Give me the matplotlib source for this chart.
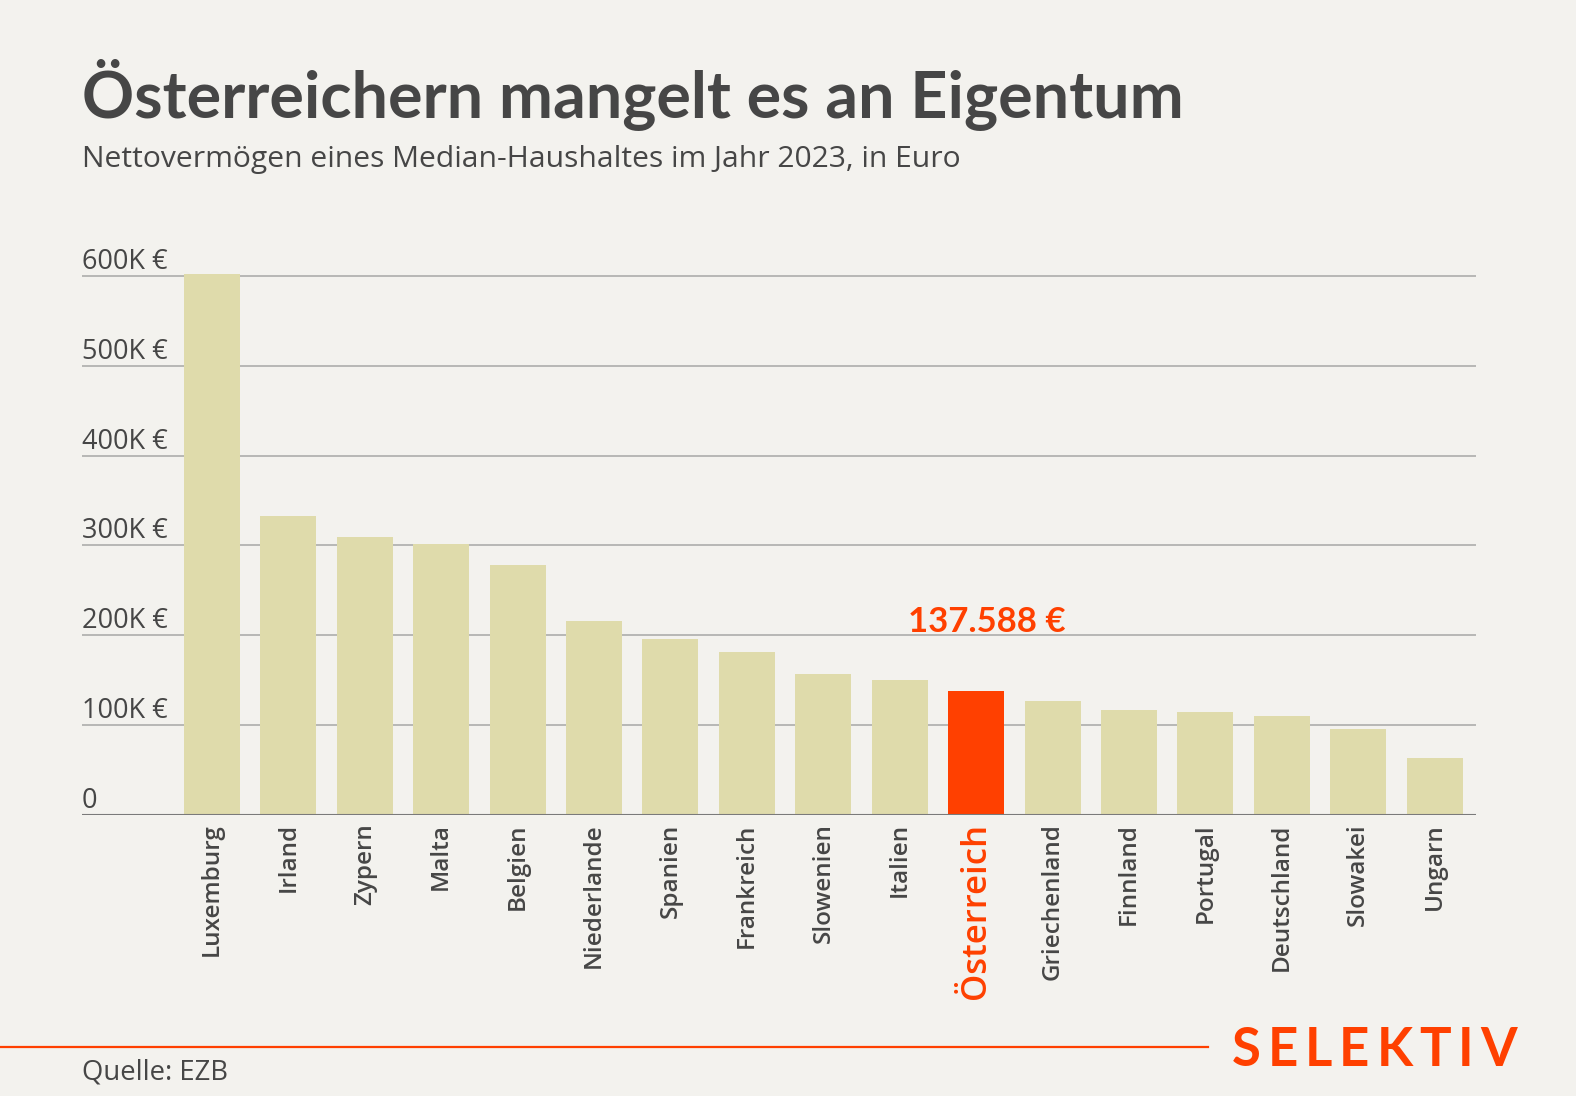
import matplotlib.pyplot as plt
import matplotlib.lines as mlines

plt.rcParams['font.family'] = ['Open Sans', 'DejaVu Sans']

countries = ["Luxemburg", "Irland", "Zypern", "Malta", "Belgien", "Niederlande",
             "Spanien", "Frankreich", "Slowenien", "Italien", "Österreich",
             "Griechenland", "Finnland", "Portugal", "Deutschland", "Slowakei", "Ungarn"]
values = [602000, 333000, 309000, 302000, 278000, 216000, 196000, 181000, 157000,
          150000, 137588, 127000, 117000, 115000, 110000, 96000, 64000]
ticks = [0, 100000, 200000, 300000, 400000, 500000, 600000]
tick_labels = ["0", "100K €", "200K €", "300K €", "400K €", "500K €", "600K €"]
highlight = "Österreich"

bg = "#f3f2ee"
bar_col = "#dfdbab"
red = "#ff4000"
txt = "#464646"

W, H = 1576, 1096
fig = plt.figure(figsize=(W / 100, H / 100), dpi=100, facecolor=bg)
ax = fig.add_axes([82 / W, 1 - 815 / H, (1476 - 82) / W, (815 - 258) / H])
ax.set_facecolor(bg)

x = list(range(len(countries)))
cols = [red if c == highlight else bar_col for c in countries]

for t in ticks[1:]:
    ax.axhline(t, color="#b2b2b0", lw=1.3, zorder=0)
ax.axhline(0, color="#7a7a7a", lw=1.5, zorder=3)

ax.bar(x, values, width=0.733, color=cols, zorder=2)

ax.set_xlim(-1.70, 16.54)
ax.set_ylim(0, 620000)
for s in ax.spines.values():
    s.set_visible(False)
ax.set_yticks([])
ax.set_xticks(x)
ax.set_xticklabels(countries, rotation=90, fontsize=17.5, color=txt, va="top",
                   fontweight="semibold")
ax.tick_params(axis="x", length=0, pad=6)
for lab in ax.get_xticklabels():
    if lab.get_text() == highlight:
        lab.set_color(red)
        lab.set_fontsize(25)

for t, l in zip(ticks, tick_labels):
    ax.annotate(l, xy=(0, t), xycoords=("axes fraction", "data"),
                xytext=(0, 7), textcoords="offset pixels",
                ha="left", va="baseline", fontsize=19.5, color=txt, fontweight="medium")

hi = countries.index(highlight)
ax.annotate(f"{values[hi]:,.0f} €".replace(",", "."), xy=(hi, values[hi]),
            xytext=(11, 59), textcoords="offset pixels",
            ha="center", va="baseline", fontsize=25, fontweight="bold", color=red,
            family=["Lato", "DejaVu Sans"])

fig.text(82 / W, 1 - 118 / H, "Österreichern mangelt es an Eigentum",
         fontsize=46.5, fontweight="bold", color=txt, va="baseline", ha="left",
         family=["Lato", "DejaVu Sans"])
fig.text(82 / W, 1 - 167 / H, "Nettovermögen eines Median-Haushaltes im Jahr 2023, in Euro",
         fontsize=21.6, color=txt, va="baseline", ha="left")
fig.text(82 / W, 1 - 1079 / H, "Quelle: EZB", fontsize=19.8, color=txt, va="baseline", ha="left")

fig.add_artist(mlines.Line2D([0, 1208 / W], [1 - 1047 / H] * 2, color=red, lw=1.6))

# logo with letter spacing
fig.canvas.draw()
r = fig.canvas.get_renderer()
letters = list("SELEKTIV")
arts = [fig.text(0, 1 - 1066 / H, ch, fontsize=38, fontweight="bold", color=red,
                 va="baseline", ha="left", family=["Lato", "DejaVu Sans"]) for ch in letters]
widths = [a.get_window_extent(r).width for a in arts]
gap = (1517 - 1232 - sum(widths)) / (len(letters) - 1)
pos = 1232
for a, w in zip(arts, widths):
    a.set_x(pos / W)
    pos += w + gap

fig.savefig("out.png", dpi=100, facecolor=bg)
